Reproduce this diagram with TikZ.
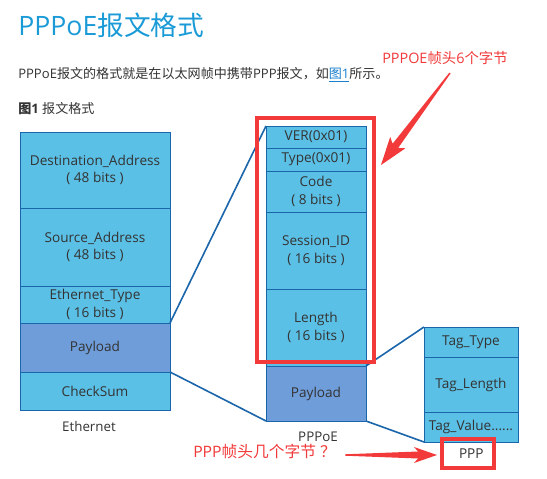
\documentclass[tikz,border=0pt]{standalone}
\usepackage{fontspec}
\setmainfont{Open Sans}
\newfontfamily\cjk{Noto Sans CJK SC}
\definecolor{lb}{RGB}{91,192,230}
\definecolor{pb}{RGB}{111,157,218}
\definecolor{bordc}{RGB}{27,102,170}
\definecolor{txtc}{RGB}{51,51,51}
\definecolor{titc}{RGB}{26,155,215}
\definecolor{linkc}{RGB}{26,127,207}
\definecolor{redc}{RGB}{242,58,58}
\begin{document}
\begin{tikzpicture}[x=0.75pt,y=-0.75pt,
  fld/.style 2 args={draw=bordc, line width=0.75pt, inner sep=0pt, outer sep=0pt,
    minimum width=#1*0.75pt, minimum height=#2*0.75pt,
    font=\fontsize{10.2}{13.2}\selectfont, text=txtc, align=center},
  conn/.style={draw=bordc, line width=1.2pt},
  redbox/.style={draw=redc, line width=2.3pt, inner sep=0pt, outer sep=0pt},
  lbl/.style={font=\fontsize{10}{12}\selectfont, text=txtc},
  redarrow/.style={fill=redc, draw=none}
]
\fill[white] (0,0) rectangle (547,479);
\useasboundingbox (0,0) rectangle (547,479);

% header texts
\node[anchor=base west, inner sep=0pt, text=titc, font=\fontsize{20}{24}\selectfont] (title) at (18,35)
  {PPPoE{\cjk 报文格式}};
\node[anchor=base west, inner sep=0pt, text=txtc, font=\fontsize{9.8}{12}\selectfont] (intro) at (18,78)
  {PPPoE{\cjk 报文的格式就是在以太网帧中携带}PPP{\cjk 报文，如}\textcolor{linkc}{\underline{{\cjk 图}1}}{\cjk 所示。}};
\node[anchor=base west, inner sep=0pt, text=txtc, font=\fontsize{9.8}{12}\selectfont] (figcap) at (18,113)
  {{\cjk\bfseries 图}{\bfseries 1} {\cjk 报文格式}};

% Ethernet frame
\node[fld={150}{76}, fill=lb] (dst) at (95,170) {Destination\_Address\\( 48 bits )};
\node[fld={150}{78}, fill=lb] (src) at (95,247) {Source\_Address\\( 48 bits )};
\node[fld={150}{37}, fill=lb] (etype) at (95,304.5) {Ethernet\_Type\\( 16 bits )};
\node[fld={150}{49}, fill=pb] (epay) at (95,347.5) {Payload};
\node[fld={150}{38}, fill=lb] (csum) at (95,391) {CheckSum};
\node[lbl] (ethlbl) at (89,426) {Ethernet};

% PPPoE frame
\node[fld={100}{22}, fill=lb] (ver) at (316,137) {VER(0x01)};
\node[fld={100}{23}, fill=lb] (typ) at (316,159.5) {Type(0x01)};
\node[fld={100}{41}, fill=lb] (code) at (316,191.5) {Code\\( 8 bits )};
\node[fld={100}{77}, fill=lb] (sid) at (316,250.5) {Session\_ID\\( 16 bits )};
\node[fld={100}{77}, fill=lb] (len) at (316,327.5) {Length\\( 16 bits )};
\node[fld={100}{55}, fill=pb] (ppay) at (316,393.5) {Payload};
\node[lbl] (pppoelbl) at (318,437) {PPPoE};

% Tag block
\node[fld={94}{30}, fill=lb] (ttype) at (471,342) {Tag\_Type};
\node[fld={94}{55}, fill=lb] (tlen) at (471,384.5) {Tag\_Length};
\node[fld={94}{30}, fill=lb] (tval) at (471,427) {Tag\_Value......};

% connectors
\draw[conn] (etype.south east) -- (ver.north west);
\draw[conn] (csum.north east) -- (ppay.south west);
\draw[conn] (len.south east) -- (ttype.north west);
\draw[conn] (ppay.south east) -- (tval.south west);

% red annotations
\node[redbox, minimum width=117*0.75pt, minimum height=244*0.75pt] (hdrbox) at (315.5,240) {};
\node[redbox, minimum width=52*0.75pt, minimum height=29*0.75pt, text=txtc,
  font=\fontsize{10.2}{12}\selectfont] (pppbox) at (468,453.5) {\hspace{5pt}PPP};

\node[anchor=base west, inner sep=0pt, text=redc, font=\fontsize{10.8}{13}\selectfont] (note1) at (382,63)
  {PPPOE{\cjk 帧头}6{\cjk 个字节}};
\node[anchor=base west, inner sep=0pt, text=redc, font=\fontsize{11.8}{14}\selectfont] (note2) at (193,457)
  {PPP{\cjk 帧头几个字节\hspace{3pt}？}};

\fill[redarrow] (450.6,73.4) -- (398.2,147.9) -- (405.4,148.3) -- (381,165)
  -- (390.2,136.9) -- (392.6,143.7) -- (449.4,72.6) -- cycle;
\fill[redarrow] (345,455.7) -- (418,458.5) -- (414,463) -- (437,455)
  -- (414,447) -- (418,451.5) -- (345,454.3) -- cycle;
\end{tikzpicture}
\end{document}
